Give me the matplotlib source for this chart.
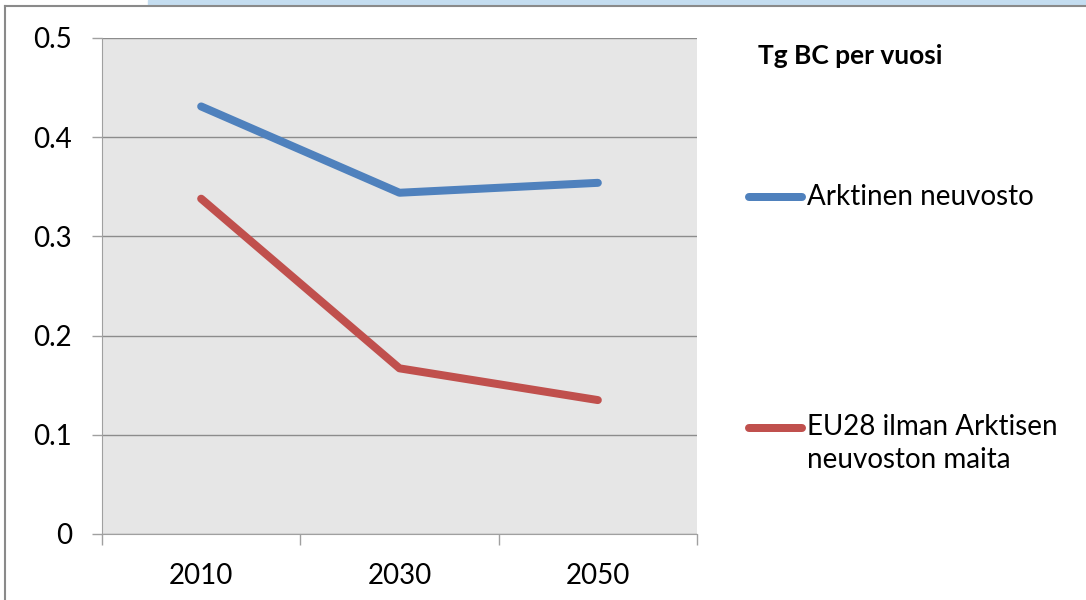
import matplotlib
matplotlib.use("Agg")
import matplotlib.pyplot as plt
from matplotlib.patches import Rectangle
from matplotlib.lines import Line2D

years = ["2010", "2030", "2050"]
arktinen = [0.431, 0.344, 0.354]
eu28 = [0.338, 0.167, 0.135]
yticks = [0, 0.1, 0.2, 0.3, 0.4, 0.5]
ytick_labels = ["0", "0.1", "0.2", "0.3", "0.4", "0.5"]
series_names = ["Arktinen neuvosto", "EU28 ilman Arktisen\nneuvoston maita"]
title = "Tg BC per vuosi"

W, H = 1086, 600
PX = 72 / 100  # points per pixel at dpi 100
fig = plt.figure(figsize=(W / 100, H / 100), dpi=100)
plt.rcParams["font.family"] = ["Lato", "DejaVu Sans"]

# window frame: light blue band on top, gray border lines
fig.patches.append(Rectangle((148 / W, 1 - 5 / H), 1 - 148 / W, 5 / H,
                             transform=fig.transFigure, color="#C4DDF0", zorder=0))
fig.add_artist(Line2D([5 / W, 1], [1 - 6 / H, 1 - 6 / H], transform=fig.transFigure,
                      color="#8a8a8a", lw=1.5))
fig.add_artist(Line2D([5 / W, 5 / W], [0, 1 - 6 / H], transform=fig.transFigure,
                      color="#8a8a8a", lw=1.5))

left, right, top, bottom = 102, 697, 38, 534
ax = fig.add_axes([left / W, 1 - bottom / H, (right - left) / W, (bottom - top) / H])
ax.set_facecolor("#E6E6E6")

LW = 8 * PX
x = [0.5, 1.5, 2.5]
ax.plot(x, arktinen, color="#4F81BD", lw=LW, solid_capstyle="round", zorder=3)
ax.plot(x, eu28, color="#C0504D", lw=LW, solid_capstyle="round", zorder=3)

ax.set_xlim(0, 3)
ax.set_ylim(0, 0.5)
ax.set_yticks(yticks)
ax.set_yticklabels(ytick_labels)
ax.set_xticks([0, 1, 2, 3], minor=False)
ax.set_xticklabels([])
ax.set_xticks(x, minor=True)
ax.set_xticklabels(years, minor=True)
ax.tick_params(axis="x", which="major", length=11 * PX, color="#a0a0a0", width=1)
ax.tick_params(axis="x", which="minor", length=0, pad=29 * PX, labelsize=20)
ax.tick_params(axis="y", length=10 * PX, color="#a0a0a0", width=1, labelsize=20, pad=20 * PX)
ax.yaxis.grid(True, color="#8c8c8c", lw=1)
ax.set_axisbelow(True)
for s in ["top", "right"]:
    ax.spines[s].set_visible(False)
ax.spines["left"].set_color("#a0a0a0")
ax.spines["bottom"].set_color("#a0a0a0")
ax.spines["bottom"].set_zorder(4)

# legend area
fig.text(758 / W, 1 - 64 / H, title, fontsize=19, fontweight="bold", va="baseline", ha="left")
for (yy, base, name, color) in [(197, 205, series_names[0], "#4F81BD"),
                                (428, 435, series_names[1], "#C0504D")]:
    fig.add_artist(Line2D([749 / W, 802 / W], [1 - yy / H, 1 - yy / H], transform=fig.transFigure,
                          color=color, lw=LW, solid_capstyle="round"))
    fig.text(807 / W, 1 - base / H, name.split("\n")[0], fontsize=20, va="baseline", ha="left")
    if "\n" in name:
        fig.text(807 / W, 1 - (base + 33) / H, name.split("\n")[1], fontsize=20,
                 va="baseline", ha="left")

fig.savefig("out.png", dpi=100)
